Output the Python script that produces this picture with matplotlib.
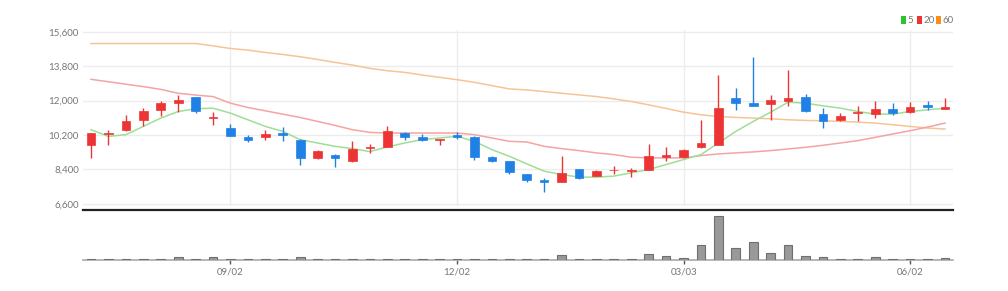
import numpy as np
import matplotlib
matplotlib.use("Agg")
import matplotlib.pyplot as plt
from matplotlib.patches import Rectangle

plt.rcParams['font.family'] = ['Liberation Sans Narrow', 'Lato', 'DejaVu Sans']

# weekly candles (red = up, blue = down)
opens = [9660, 10230, 10480, 10960, 11520, 11870, 12180, 11080, 10560, 10080,
         10100, 10280, 9960, 9000, 9170, 8830, 9530, 9570, 10300, 10080,
         9960, 10210, 10080, 9070, 8830, 8170, 7820, 7750, 8430, 8060,
         8340, 8320, 8390, 9070, 9070, 9560, 9660, 12160, 11900, 11810,
         12000, 12210, 11290, 10960, 11340, 11310, 11570, 11430, 11780, 11570]
highs = [10320, 10480, 11260, 11600, 11990, 12270, 12180, 11400, 10800, 10180,
         10480, 10600, 9970, 9400, 9180, 9870, 9730, 10650, 10350, 10270,
         10010, 10340, 10160, 9080, 8840, 8170, 7920, 9120, 8430, 8360,
         8570, 8480, 9750, 9570, 9490, 11010, 13340, 12680, 14300, 12300,
         13600, 12330, 11600, 11340, 11730, 11990, 11850, 11920, 11990, 12130]
lows = [9000, 9660, 10390, 10650, 11170, 11400, 11340, 10740, 10130, 9830,
        9950, 9900, 8620, 8950, 8530, 8770, 9260, 9560, 9950, 9870,
        9690, 9990, 8880, 8770, 8180, 7730, 7210, 7740, 7900, 8030,
        8180, 7990, 8380, 8830, 9000, 9540, 9650, 11520, 11720, 11000,
        11740, 11430, 10560, 10950, 10910, 11080, 11260, 11340, 11500, 11560]
closes = [10300, 10300, 10910, 11470, 11900, 12040, 11470, 11130, 10160, 9960,
          10250, 10220, 8970, 9380, 9000, 9470, 9580, 10390, 10080, 9960,
          10000, 10080, 9030, 8830, 8270, 7850, 7730, 8220, 7960, 8290,
          8390, 8360, 9090, 9170, 9420, 9780, 11600, 11870, 11730, 12040,
          12160, 11470, 10910, 11170, 11400, 11570, 11340, 11660, 11660, 11690]

ma5 = [10476, 10128, 10215, 10650, 11084, 11431, 11570, 11605, 11344, 10997,
       10650, 10389, 9955, 9781, 9607, 9486, 9330, 9572, 9781, 9955,
       10042, 10128, 9868, 9434, 9086, 8687, 8305, 8131, 7992, 7992,
       8044, 8218, 8391, 8652, 8913, 9173, 9781, 10389, 10910, 11396,
       11918, 11866, 11727, 11605, 11431, 11292, 11292, 11431, 11518, 11605]
ma20 = [13116, 12990, 12860, 12734, 12590, 12387, 12290, 12213, 11866, 11640,
        11466, 11292, 11118, 10910, 10702, 10476, 10337, 10302, 10302, 10302,
        10302, 10302, 10215, 10042, 9868, 9833, 9607, 9486, 9382, 9260,
        9173, 9034, 8999, 8999, 8999, 9121, 9208, 9260, 9312, 9382,
        9468, 9555, 9659, 9781, 9903, 10076, 10250, 10424, 10615, 10823]
ma60 = [14992, 14992, 14992, 14992, 14992, 14992, 14992, 14870, 14731, 14645,
        14523, 14419, 14297, 14159, 14002, 13863, 13689, 13567, 13480, 13341,
        13220, 13098, 12960, 12786, 12612, 12560, 12474, 12387, 12300, 12213,
        12091, 11952, 11779, 11590, 11396, 11257, 11170, 11118, 11084, 11049,
        10997, 10962, 10945, 10910, 10875, 10823, 10736, 10650, 10563, 10511]

volume = [10, 10, 10, 10, 10, 23, 10, 27, 10, 10,
          10, 10, 23, 10, 10, 10, 10, 10, 10, 10,
          10, 10, 10, 10, 10, 10, 10, 43, 10, 10,
          10, 10, 53, 37, 20, 150, 437, 113, 173, 70,
          143, 37, 23, 10, 10, 23, 10, 10, 10, 20]

tick_pos = [8, 21, 34, 47]
tick_labels = ['09/02', '12/02', '03/03', '06/02']
price_ticks = [6600, 8400, 10200, 12000, 13800, 15600]

UP = '#ec3434'
DOWN = '#1f80e6'
########################################################################

W, H = 1008, 291
fig = plt.figure(figsize=(W / 100, H / 100), dpi=100)

x0, x1 = 83, 953
ax = fig.add_axes([x0 / W, 1 - 205.6 / H, (x1 - x0) / W, 175.6 / H])
axv = fig.add_axes([x0 / W, 1 - 259.5 / H, (x1 - x0) / W, 50 / H])

n = len(opens)
x = np.arange(n)

# price panel
for t in price_ticks:
    ax.axhline(t, color='#ececec', lw=1, zorder=0)
for p in tick_pos:
    ax.axvline(p, color='#ececec', lw=1, zorder=0)

ax.plot(x, ma60, color='#f7c496', lw=1.1, zorder=2)
ax.plot(x, ma20, color='#f5a3a3', lw=1.1, zorder=2)
ax.plot(x, ma5, color='#9ddf96', lw=1.1, zorder=2)

for i in range(n):
    o, h, l, c = opens[i], highs[i], lows[i], closes[i]
    col = UP if c >= o else DOWN
    ax.vlines(i, l, h, color=col, lw=1, zorder=3)
    bot = min(o, c)
    ht = max(abs(c - o), 45)
    ax.add_patch(Rectangle((i - 0.25, bot), 0.5, ht, facecolor=col,
                           edgecolor=col, lw=0.5, zorder=4))

ax.set_xlim(-0.46, 49.46)
ax.set_ylim(6500, 15700)
ax.set_yticks(price_ticks)
ax.set_yticklabels([f'{t:,}' for t in price_ticks])
ax.tick_params(axis='y', length=0, pad=3, labelsize=7, labelcolor='#777777')
ax.set_xticks([])
for s in ax.spines.values():
    s.set_visible(False)

# legend
leg = [('5', '#2fc42f'), ('20', '#ee3333'), ('60', '#ff8c1a')]
lx = 901
for lab, colr in leg:
    fig.patches.append(Rectangle((lx / W, 1 - 24 / H), 4.5 / W, 7.5 / H,
                                 transform=fig.transFigure, facecolor=colr,
                                 edgecolor='none'))
    fig.text((lx + 6.5) / W, 1 - 20.5 / H, lab, fontsize=7, color='#777777',
             va='center', ha='left')
    lx += 16 if lab == '5' else 19

# volume panel
axv.bar(x, volume, width=0.5, color='#999999', edgecolor='#6f6f6f', lw=0.8,
        zorder=3)
axv.set_xlim(-0.46, 49.46)
axv.set_ylim(0, 500)
axv.set_yticks([])
axv.set_xticks(tick_pos)
axv.set_xticklabels(tick_labels)
axv.tick_params(axis='x', length=3, width=1, color='#555555', pad=3,
                labelsize=7, labelcolor='#777777')
for s in ['left', 'right']:
    axv.spines[s].set_visible(False)
axv.spines['top'].set_color('#222222')
axv.spines['top'].set_linewidth(1.6)
axv.spines['bottom'].set_color('#aaaaaa')
axv.spines['bottom'].set_linewidth(1.2)

fig.savefig('out.png', dpi=100)
